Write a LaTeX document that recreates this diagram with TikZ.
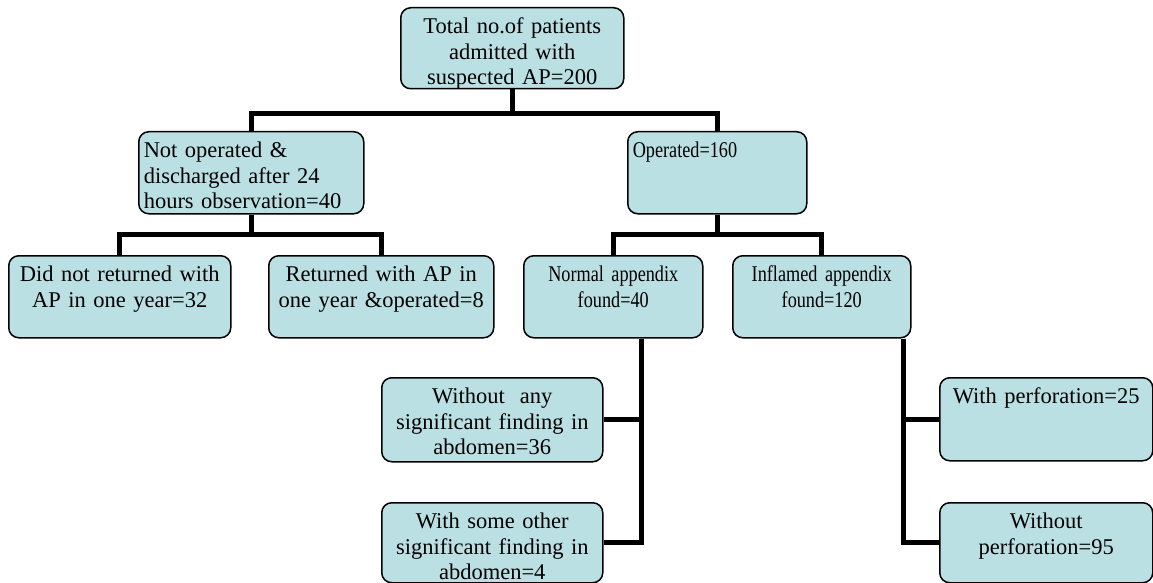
\documentclass[tikz,border=0pt]{standalone}
\usepackage{fontspec}
\setmainfont{Liberation Serif}
\newfontfamily\narrowserif[FakeStretch=0.81]{Liberation Serif}
\usetikzlibrary{positioning}

\definecolor{boxblue}{RGB}{187,224,227}

\tikzset{
  stage/.style 2 args={draw, fill=boxblue, line width=1.5pt, rounded corners=10pt,
    anchor=north west, inner xsep=3pt, inner ysep=0pt,
    text width=#1, text height=26pt, text depth=#2,
    font=\fontsize{22.5}{25.5}\selectfont},
  narrow/.style={font=\narrowserif\fontsize{22.5}{25.5}\selectfont},
  link/.style={line width=5pt, black}
}

\begin{document}
\begin{tikzpicture}[x=1pt, y=-1pt]
        \useasboundingbox (0,0) rectangle (1153,583);

        % top level
        \node[stage={217pt}{55pt}, align=center] (total) at (400,7) {Total no.of patients\\admitted with\\suspected AP=200};

        % second level
        \node[stage={219pt}{56pt}, align=left] (notop) at (138,131) {\hspace{2pt}Not operated \&\\\hspace{2pt}discharged after 24\\\hspace{2pt}hours observation=40};
        \node[stage={173pt}{56pt}, narrow, align=left] (oper) at (627,131) {\hspace{2pt}Operated=160};

        % third level
        \node[stage={216pt}{56pt}, align=center] (notret) at (8,255) {Did not returned with\\AP in one year=32};
        \node[stage={219pt}{56pt}, align=center] (ret) at (268,255) {Returned with AP in\\one year \&operated=8};
        \node[stage={173pt}{56pt}, narrow, align=center] (normal) at (523,255) {Normal appendix\\found=40};
        \node[stage={172pt}{56pt}, narrow, align=center] (inflamed) at (732,255) {Inflamed appendix\\found=120};

        % fourth level
        \node[stage={215pt}{58pt}, align=center] (withoutany) at (381,377) {Without~ any\\significant finding in\\abdomen=36};
        \node[stage={215pt}{54pt}, align=center] (withsome) at (381,502) {With some other\\significant finding in\\abdomen=4};
        \node[stage={207pt}{57pt}, align=center] (withperf) at (939,377) {With perforation=25};
        \node[stage={207pt}{54pt}, align=center] (withoutperf) at (939,502) {Without\\perforation=95};

        % connectors
        \draw[link] (total.south) -- ++(0,24) -| (notop.north);
        \draw[link] (total.south) -- ++(0,24) -| (oper.north);
        \draw[link] (notop.south) -- ++(0,20) -| (notret.north);
        \draw[link] (notop.south) -- ++(0,20) -| (ret.north);
        \draw[link] (oper.south) -- ++(0,20) -| (normal.north);
        \draw[link] (oper.south) -- ++(0,20) -| (inflamed.north);
        \draw[link] ([xshift=28.5pt]normal.south) |- (withsome.east);
        \draw[link] (withoutany.east) -| ([xshift=28.5pt]normal.south);
        \draw[link] ([xshift=82pt]inflamed.south) |- (withoutperf.west);
        \draw[link] (withperf.west) -| ([xshift=82pt]inflamed.south);
    \end{tikzpicture}
\end{document}
